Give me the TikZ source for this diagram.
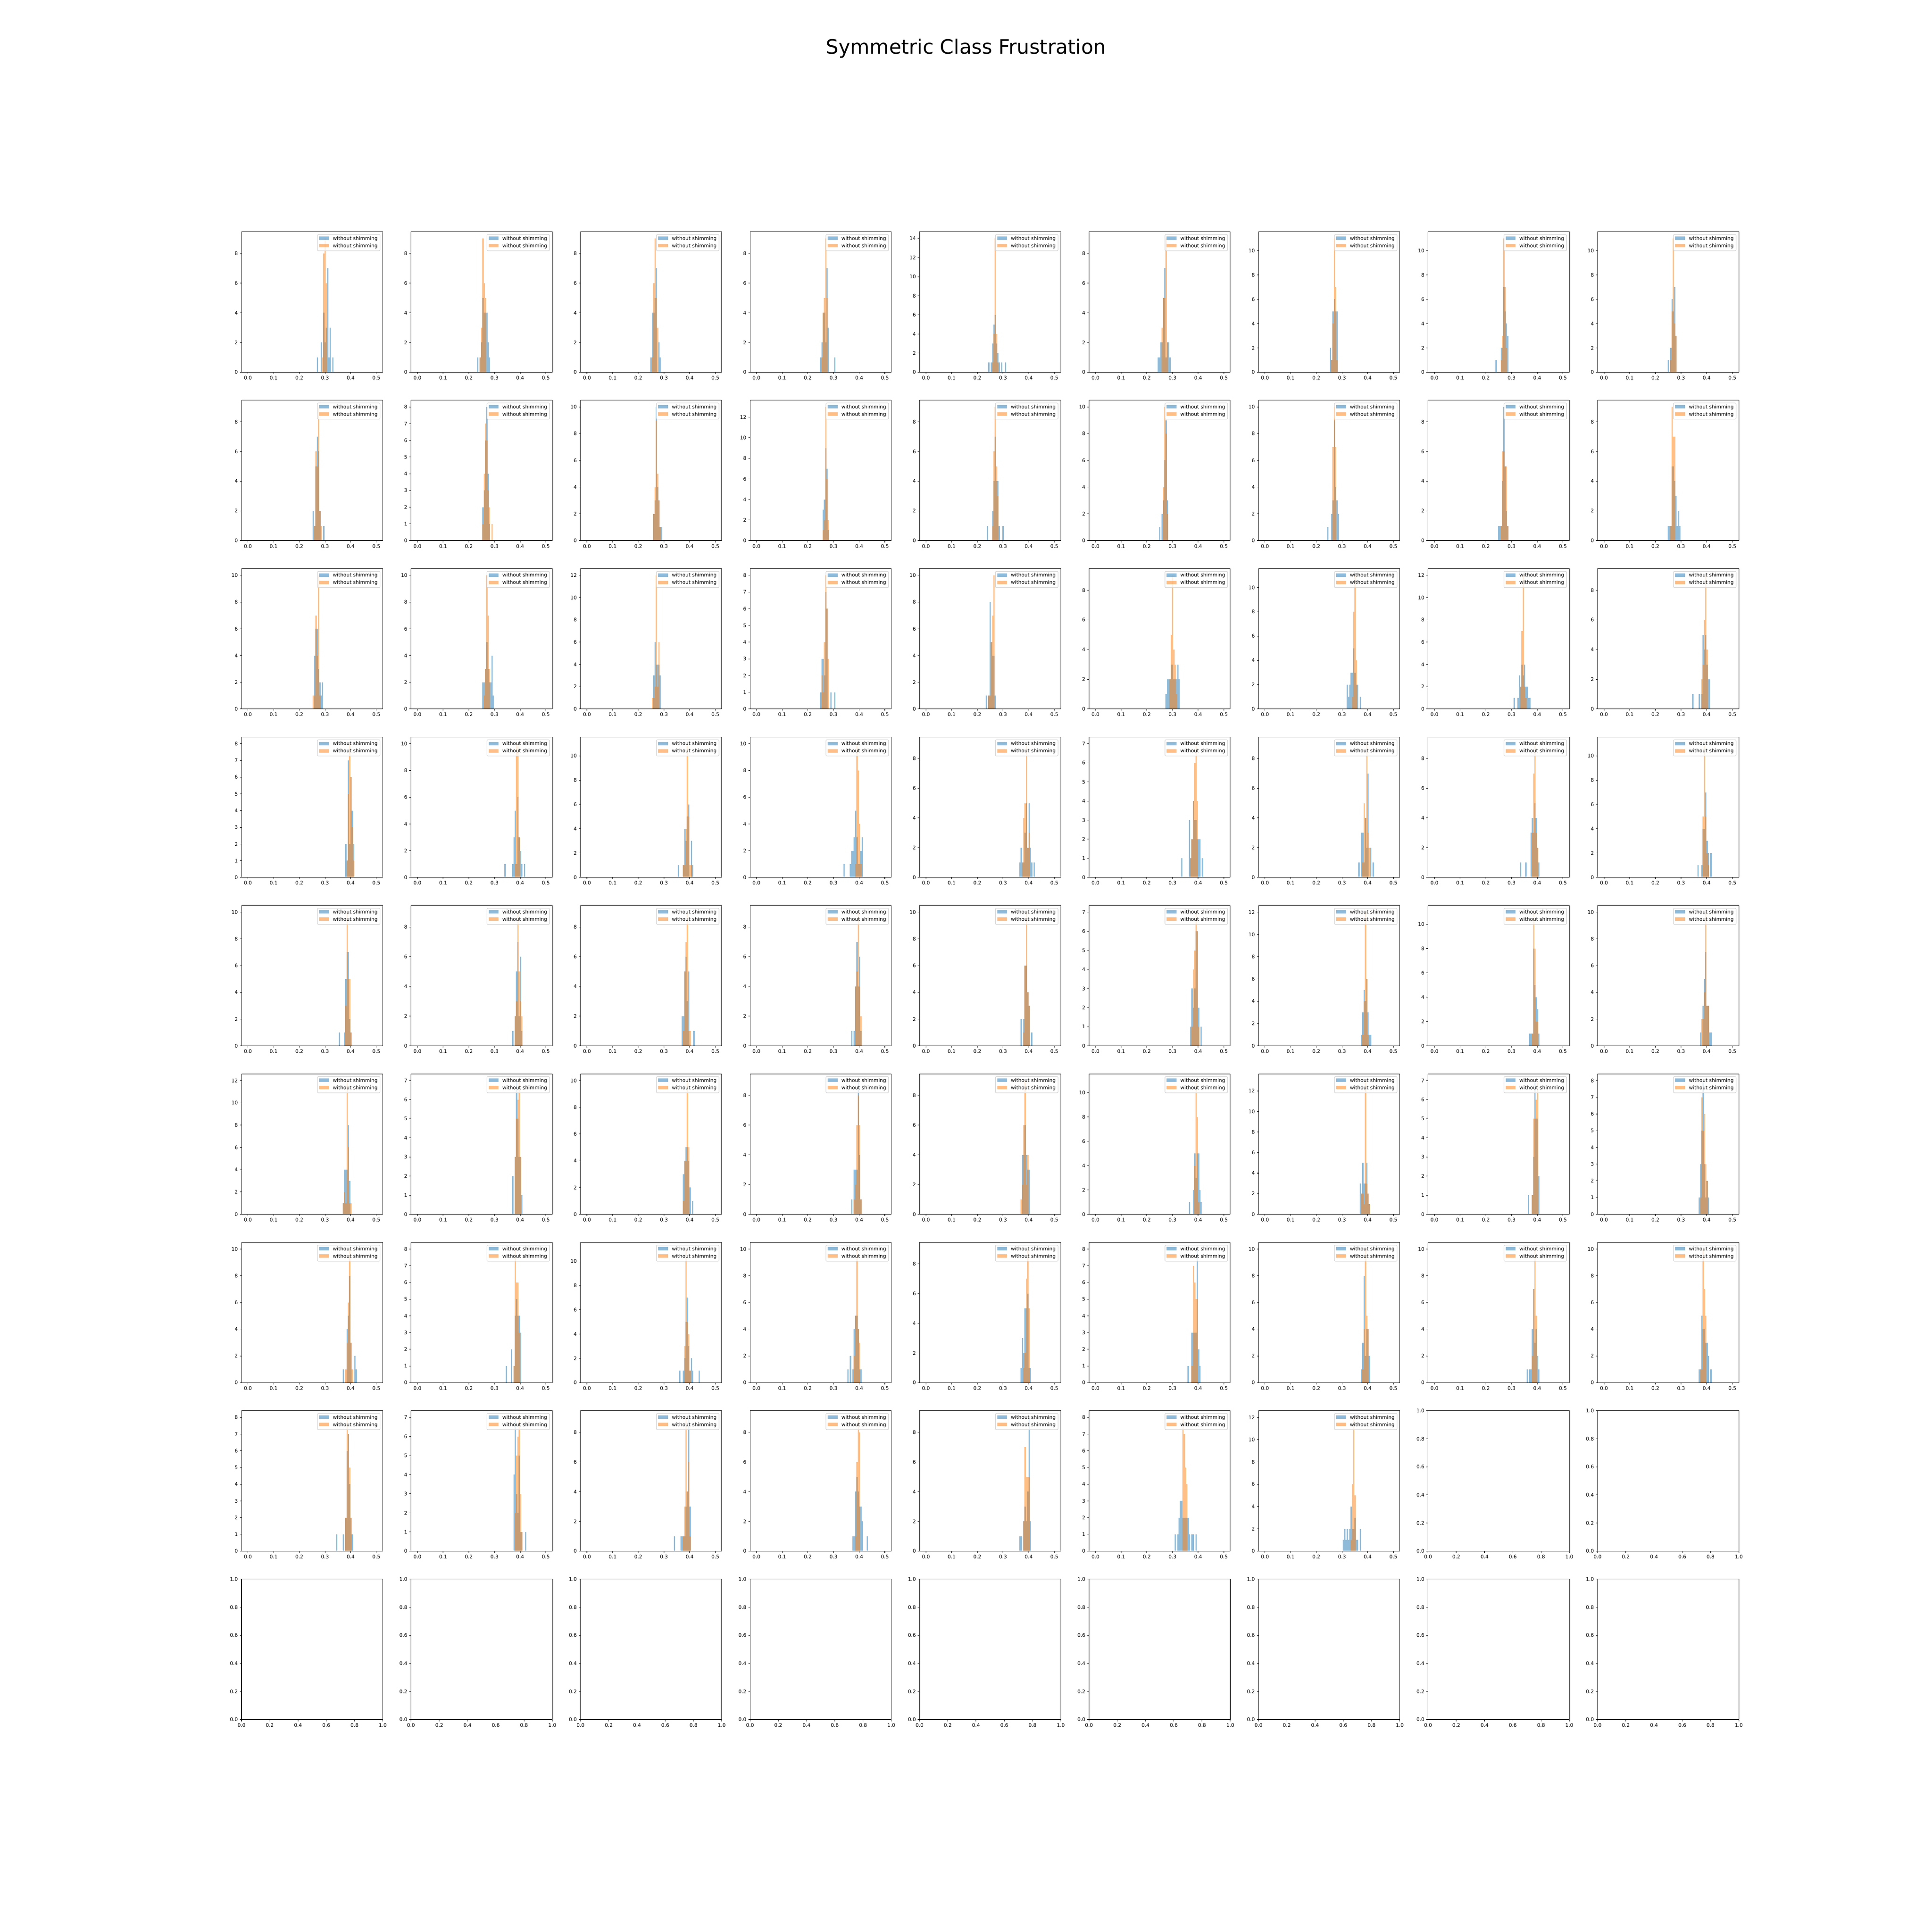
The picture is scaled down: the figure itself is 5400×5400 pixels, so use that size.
\documentclass[tikz,border=0pt]{standalone}
\usepackage{fontspec}
\setmainfont{DejaVu Sans}
\usetikzlibrary{positioning}
\definecolor{mplblue}{HTML}{1F77B4}
\definecolor{mplorange}{HTML}{FF7F0E}
\tikzset{every picture/.style = {x=0.72pt, y=0.72pt}}
\tikzset{bluebar/.style = {fill=mplblue, fill opacity=0.5}}
\tikzset{orangebar/.style = {fill=mplorange, fill opacity=0.5}}
\tikzset{spine/.style = {draw=black, line width=0.8pt}}
\tikzset{tickmark/.style = {draw=black, line width=0.8pt}}
\tikzset{ticklab/.style = {inner sep=0, font=\fontsize{10}{12}\selectfont}}
\tikzset{legbox/.style = {draw=black!18, line width=1pt, fill=white, fill opacity=0.8,
  rounded corners=2pt, minimum width=126pt, minimum height=32.6pt, inner sep=0}}
\tikzset{legtext/.style = {inner sep=0, anchor=base west, font=\fontsize{10}{12}\selectfont}}
\newcommand\binw{0.0050505}

% one histogram panel: row, column, highest count, blue bins, orange bins
\newcommand{\histpanel}[5]{%
  \pgfmathsetmacro\pl{(675+#2*473.77+17.95)*0.72}%
  \pgfmathsetmacro\pb{(4359.74-#1*470.72)*0.72}%
  \pgfmathsetmacro\sy{392.26*0.72/(1.05*#3)}%
  \pgfmathsetmacro\yt{1.05*#3}%
  \pgfmathtruncatemacro\st{#3>8 ? 2 : 1}%
  \pgfmathtruncatemacro\nt{floor(#3/\st)}%
  \begin{scope}[xshift=\pl pt, yshift=\pb pt, x=516.84pt, y=\sy pt]
    \foreach \k/\cnt in {#4}
      \fill[bluebar] (\k*\binw,0) rectangle ({(\k+1)*\binw},\cnt);
    \foreach \k/\cnt in {#5}
      \fill[orangebar] (\k*\binw,0) rectangle ({(\k+1)*\binw},\cnt);
    \draw[spine] (-0.025,0) rectangle (0.525,\yt);
    \foreach \xt in {0.0,0.1,0.2,0.3,0.4,0.5}
      \draw[tickmark] (\xt,0) -- ++(0,-3.5pt) node[ticklab, below=3.5pt] {\xt};
    \foreach \i in {0,...,\nt} {
      \pgfmathtruncatemacro\yv{\i*\st}
      \draw[tickmark] (-0.025,\yv) -- ++(-3.5pt,0) node[ticklab, left=3.5pt] {\yv};
    }
    % legend
    \coordinate (ne#1#2) at (0.525,\yt);
    \node[legbox, anchor=north east, xshift=-5pt, yshift=-5pt] (leg#1#2) at (ne#1#2) {};
    \fill[bluebar] ([xshift=4pt, yshift=-4.4pt]leg#1#2.north west) rectangle ++(20pt,-7pt);
    \fill[orangebar] ([xshift=4pt, yshift=-19.2pt]leg#1#2.north west) rectangle ++(20pt,-7pt);
    \node[legtext] at ([xshift=31.4pt, yshift=-11.5pt]leg#1#2.north west) {without shimming};
    \node[legtext] at ([xshift=31.4pt, yshift=-26.3pt]leg#1#2.north west) {without shimming};
  \end{scope}}

% one empty panel: row, column (drawn in pixel units)
\newcommand{\emptypanel}[2]{%
  \pgfmathsetmacro\ex{675+#2*473.77}%
  \pgfmathsetmacro\ey{4359.74-#1*470.72}%
  \coordinate (sw#1#2) at (\ex,\ey);
  \coordinate (ne#1#2) at (\ex+394.81,\ey+392.26);
  \draw[spine] (sw#1#2) rectangle (ne#1#2);
  \foreach \v in {0.0,0.2,0.4,0.6,0.8,1.0} {
    \draw[tickmark] ([xshift=\v*284.26pt]sw#1#2) -- ++(0,-3.5pt)
      node[ticklab, below=3.5pt] {\v};
    \draw[tickmark] ([yshift=\v*282.43pt]sw#1#2) -- ++(-3.5pt,0)
      node[ticklab, left=3.5pt] {\v};
  }}

\begin{document}
\begin{tikzpicture}
  \useasboundingbox (0,0) rectangle (5400,5400);
  \node[anchor=north, inner sep=0, font=\fontsize{40}{48}\selectfont] (title)
    at (2700,5292) {Symmetric Class Frustration};

  % row 0
  \histpanel{0}{0}{9}{53/1,56/2,58/4,59/2,60/3,61/7,62/1,63/3,65/1}{57/1,58/8,59/9,60/6}
  \histpanel{0}{1}{9}{46/1,48/1,49/2,50/5,51/4,52/4,53/4,54/2,55/1}{48/1,49/3,50/9,51/6,52/5}
  \histpanel{0}{2}{9}{49/1,50/4,51/4,52/5,53/7,55/2,56/1}{50/1,51/6,52/9,53/5,54/3}
  \histpanel{0}{3}{9}{49/1,50/2,51/4,52/4,53/2,54/7,55/3,60/1}{50/1,51/4,52/5,53/9,54/5}
  \histpanel{0}{4}{14}{48/1,50/1,51/3,52/5,53/6,54/3,55/2,56/1,58/1,61/1}{51/1,52/4,53/14,54/4,55/1}
  \histpanel{0}{5}{9}{48/1,49/1,50/2,51/2,52/5,53/7,54/1,55/2,56/2,57/1}{51/3,52/5,53/5,54/9,55/2}
  \histpanel{0}{6}{11}{50/2,51/1,52/5,53/6,54/5,55/5}{51/1,52/4,53/11,54/7,55/1}
  \histpanel{0}{7}{11}{47/1,51/2,52/2,53/7,54/5,55/4,56/3}{51/1,52/3,53/11,54/7,55/2}
  \histpanel{0}{8}{11}{49/1,51/2,52/6,53/5,54/7,55/3}{51/1,52/5,53/11,54/4,55/3}

  % row 1
  \histpanel{1}{0}{9}{50/2,51/1,52/5,53/7,54/6,55/2,58/1}{51/1,52/6,53/5,54/9,55/2,56/1}
  \histpanel{1}{1}{8}{50/2,51/3,52/6,53/8,54/4,55/1}{50/1,51/4,52/7,53/6,54/3,55/2,57/1}
  \histpanel{1}{2}{10}{51/2,52/3,53/10,54/4,55/3,56/1,57/1}{51/2,52/4,53/9,54/5,55/3,56/1}
  \histpanel{1}{3}{13}{51/3,52/4,53/9,54/7,55/1}{51/1,52/2,53/13,54/6,55/2}
  \histpanel{1}{4}{9}{47/1,51/2,52/4,53/7,54/4,55/4,56/1,59/1}{51/1,52/6,53/9,54/5,55/3}
  \histpanel{1}{5}{10}{49/1,51/2,52/3,53/6,54/9,55/3}{52/4,53/10,54/8,55/2}
  \histpanel{1}{6}{10}{48/1,51/2,52/3,53/9,54/4,55/3,56/2}{52/7,53/10,54/7}
  \histpanel{1}{7}{9}{49/1,50/1,51/1,52/4,53/9,54/5,55/2,56/1}{51/1,52/6,53/6,54/5,55/5,56/1}
  \histpanel{1}{8}{9}{49/1,50/1,51/1,52/5,53/5,54/4,55/3,56/1,57/2,58/1}{51/1,52/9,53/7,54/7}

  % row 2
  \histpanel{2}{0}{10}{51/4,52/6,53/6,54/3,55/2,56/1,57/2}{50/1,51/1,52/7,53/4,54/10,55/1}
  \histpanel{2}{1}{10}{50/2,51/2,52/3,53/5,54/3,55/2,56/2,57/4,58/1}{51/1,52/3,53/10,54/7,55/3}
  \histpanel{2}{2}{12}{51/3,52/6,53/4,54/4,55/4,56/3}{50/1,51/1,52/2,53/12,54/2,55/6}
  \histpanel{2}{3}{8}{49/1,50/3,51/3,52/2,53/7,54/6,57/1,60/1}{50/2,51/1,52/4,53/8,54/6,55/3}
  \histpanel{2}{4}{10}{46/1,48/1,49/8,50/5,51/4,52/4,53/1}{48/1,49/1,50/5,51/7,52/10}
  \histpanel{2}{5}{9}{54/1,55/2,56/2,57/2,58/3,59/3,60/2,61/2,62/2,63/3,64/2}{57/2,58/5,59/9,60/4,61/3,62/1}
  \histpanel{2}{6}{11}{63/2,64/1,65/2,66/3,67/3,68/5,69/3,70/2,71/2,73/1}{67/1,68/8,69/11,70/4}
  \histpanel{2}{7}{12}{61/1,64/1,65/3,66/2,67/4,68/3,69/4,70/2,71/2,72/1,73/1}{66/2,67/7,68/12,69/2,70/1}
  \histpanel{2}{8}{9}{68/1,73/1,75/1,76/5,77/4,78/5,79/3,80/2,81/2}{75/2,76/3,77/6,78/9,79/4}

  % row 3
  \histpanel{3}{0}{8}{75/2,76/1,77/7,78/2,79/6,80/4,81/2}{76/1,77/5,78/8,79/6,80/3,81/1}
  \histpanel{3}{1}{10}{67/1,73/1,74/3,75/5,76/1,77/6,78/3,79/2,80/1,82/1}{75/1,76/10,77/10,78/3}
  \histpanel{3}{2}{11}{70/1,74/1,75/4,76/3,77/5,78/6,80/3,81/1}{74/1,75/1,76/4,77/11,78/5,79/1,80/1}
  \histpanel{3}{3}{10}{67/1,72/1,73/2,74/2,75/3,76/5,77/3,78/1,79/1,80/2,81/3}{76/1,77/10,78/8,79/4,80/1}
  \histpanel{3}{4}{9}{72/1,73/2,74/1,75/1,76/3,77/5,78/2,79/5,80/2,81/1,83/1}{74/1,75/4,76/5,77/9,78/2,79/3}
  \histpanel{3}{5}{7}{66/1,72/3,73/1,74/2,75/4,76/3,77/3,78/2,79/2,80/2,82/1}{73/1,74/2,75/4,76/6,77/7,78/4}
  \histpanel{3}{6}{9}{72/1,74/3,75/3,76/1,77/4,78/2,79/7,81/2,83/1}{75/1,76/5,77/4,78/9,79/3,80/2}
  \histpanel{3}{7}{9}{66/1,70/1,74/3,75/4,76/3,77/5,78/4,79/2,80/1}{75/3,76/7,77/9,78/3,79/2}
  \histpanel{3}{8}{11}{72/1,75/1,76/4,77/4,78/7,79/3,80/2,82/2}{76/5,77/11,78/5,79/2,80/1}

  % row 4
  \histpanel{4}{0}{10}{70/1,74/1,75/5,76/7,77/7,78/2,79/1}{75/3,76/10,77/5,78/5,79/1}
  \histpanel{4}{1}{9}{73/1,75/2,76/5,77/7,78/2,79/6,80/1}{75/2,76/3,77/9,78/5,79/3,80/2}
  \histpanel{4}{2}{9}{73/2,74/2,75/5,76/6,77/3,78/5,82/1}{74/1,75/5,76/7,77/9,78/1,79/1}
  \histpanel{4}{3}{9}{73/1,75/1,76/4,77/7,78/4,79/6,80/1}{76/4,77/5,78/9,79/4,80/2}
  \histpanel{4}{4}{10}{73/2,75/2,76/6,77/6,78/4,79/3,81/1}{75/1,76/6,77/10,78/4,79/3}
  \histpanel{4}{5}{7}{73/1,74/3,75/2,76/3,77/6,78/6,79/2,81/1}{74/1,75/4,76/5,77/7,78/6,79/1}
  \histpanel{4}{6}{12}{74/1,75/3,76/5,77/4,78/6,79/3,80/1,81/1}{75/1,76/4,77/12,78/6,79/1}
  \histpanel{4}{7}{11}{73/1,74/1,75/1,76/8,77/5,78/4,79/3,80/1}{75/1,76/11,77/8,78/2,79/2}
  \histpanel{4}{8}{10}{74/1,76/3,77/5,78/7,79/3,80/3,81/1,82/1}{75/2,76/2,77/4,78/10,79/3,80/3}

  % row 5
  \histpanel{5}{0}{12}{73/1,74/4,75/4,76/4,77/8,78/3}{73/1,74/2,75/1,76/12,77/6,78/1,79/1}
  \histpanel{5}{1}{7}{73/2,75/3,76/7,77/5,78/3,79/3,80/1}{75/3,76/5,77/6,78/7,79/3}
  \histpanel{5}{2}{10}{74/3,75/4,76/5,77/5,78/4,79/2,81/1}{74/1,75/4,76/4,77/10,78/5}
  \histpanel{5}{3}{9}{73/1,75/3,76/3,77/3,78/9,79/4,80/1}{75/1,76/2,77/6,78/8,79/6,80/1}
  \histpanel{5}{4}{9}{74/4,75/4,76/6,77/4,78/3,79/3}{73/1,74/2,75/6,76/9,77/2,78/4}
  \histpanel{5}{5}{11}{72/1,75/2,76/5,77/3,78/5,79/5,80/2,81/1}{76/4,77/11,78/8,79/1}
  \histpanel{5}{6}{13}{73/3,74/2,75/5,76/3,77/3,78/5,79/2,80/1}{74/2,75/2,76/1,77/13,78/3,79/2,80/1}
  \histpanel{5}{7}{7}{72/1,75/1,76/3,77/7,78/5,79/5,80/2}{75/1,76/5,77/5,78/6,79/7}
  \histpanel{5}{8}{8}{73/1,74/3,75/5,76/8,77/3,78/1,79/2,80/1}{74/1,75/7,76/5,77/6,78/3,79/2}

  % row 6
  \histpanel{6}{0}{10}{73/1,76/4,77/5,78/8,79/3,82/2,83/1}{75/1,76/3,77/6,78/10,79/3,80/1}
  \histpanel{6}{1}{8}{68/1,72/2,74/1,75/4,76/5,77/4,78/4,79/3}{74/1,75/8,76/6,77/6,78/3}
  \histpanel{6}{2}{11}{71/1,74/1,75/2,76/5,77/7,78/3,79/1,80/2,81/1,86/1}{75/3,76/11,77/5,78/4,79/1}
  \histpanel{6}{3}{10}{70/1,72/2,74/1,75/4,76/5,77/5,78/4,79/1,80/1}{75/2,76/5,77/10,78/4,79/3}
  \histpanel{6}{4}{9}{73/1,74/3,75/2,76/5,77/5,78/6,79/1,80/1}{75/1,76/2,77/7,78/9,79/5}
  \histpanel{6}{5}{8}{71/1,74/3,75/3,76/3,77/3,78/8,79/2,80/1}{74/1,75/7,76/6,77/5,78/5}
  \histpanel{6}{6}{10}{74/1,75/3,76/8,77/2,78/4,79/4,80/2}{75/1,76/4,77/10,78/5,79/4}
  \histpanel{6}{7}{10}{71/1,73/1,74/1,75/4,76/7,77/3,78/4,79/2,80/1}{75/2,76/7,77/10,78/5}
  \histpanel{6}{8}{10}{73/1,74/1,75/5,76/4,77/4,78/3,79/3,80/2,82/1}{74/1,75/1,76/10,77/7,78/5}

  % row 7
  \histpanel{7}{0}{8}{68/1,73/1,75/2,76/6,77/7,78/4,79/2,80/1}{75/2,76/8,77/7,78/5,79/2}
  \histpanel{7}{1}{7}{74/4,75/7,76/3,77/2,78/5,79/1,80/1,83/1}{75/2,76/5,77/6,78/7,79/3,80/1}
  \histpanel{7}{2}{9}{67/1,72/1,73/1,74/1,75/1,76/3,77/4,78/9,79/3}{74/1,75/3,76/9,77/4,78/6,79/1}
  \histpanel{7}{3}{9}{74/1,75/1,76/4,77/5,78/4,79/3,80/3,81/2,85/1}{76/1,77/6,78/9,79/8}
  \histpanel{7}{4}{9}{72/1,73/1,75/2,76/3,77/2,78/4,79/9,80/2}{75/2,76/7,77/5,78/5,79/5}
  \histpanel{7}{5}{8}{61/1,63/1,64/2,65/3,66/3,67/2,68/2,69/2,70/2,71/2,72/1,74/1,75/1,77/1}{67/8,68/7,69/5,70/4}
  \histpanel{7}{6}{12}{60/1,61/2,62/1,63/2,64/1,65/2,66/4,67/2,68/2,69/3,70/1,71/1,73/2}{66/1,67/6,68/12,69/5}
  \emptypanel{7}{7}
  \emptypanel{7}{8}

  % row 8, all empty
  \emptypanel{8}{0}
  \emptypanel{8}{1}
  \emptypanel{8}{2}
  \emptypanel{8}{3}
  \emptypanel{8}{4}
  \emptypanel{8}{5}
  \emptypanel{8}{6}
  \emptypanel{8}{7}
  \emptypanel{8}{8}
\end{tikzpicture}
\end{document}
